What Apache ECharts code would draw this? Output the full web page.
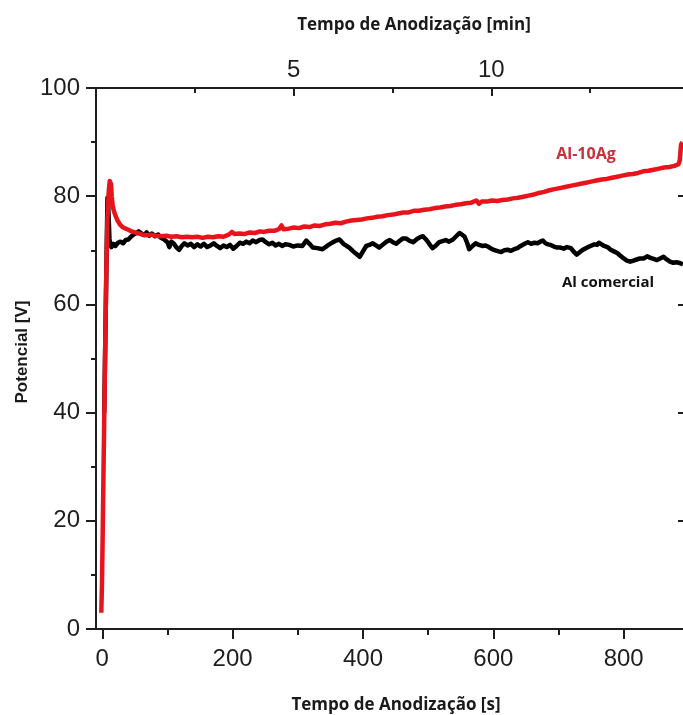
<!DOCTYPE html>
<html><head><meta charset="utf-8">
<script src="https://cdn.jsdelivr.net/npm/echarts@6/dist/echarts.min.js"></script>
<style>html,body{margin:0;padding:0;background:#fff}#c{width:683px;height:715px}</style>
</head><body><div id="c"></div>
<script>
// ---- data ----
const comercialTime = [3,4,5.5,7,8,9,10,11,12,14,17,20,24,28,32,36,40,44,48,52,56,60,64,68,72,76,81,86,90,95,100,103,106,110,114,118,122,126,131,136,141,146,151,156,161,166,171,176,181,186,191,196,201,206,211,216,221,226,231,236,241,246,251,256,261,266,271,276,281,287,293,300,307,313,318,323,330,338,346,354,359,364,370,375,379,385,390,395,400,405,410,415,420,425,430,436,441,446,451,456,461,466,471,477,482,487,492,496,500,504,507,512,517,522,527,532,538,543,548,552,556,560,563,568,573,578,583,588,593,598,603,608,612,617,622,627,632,637,642,648,653,658,663,668,672,676,680,684,688,693,698,703,708,713,719,723,728,733,739,744,749,755,759,762,766,770,775,780,785,790,795,800,805,810,815,820,825,831,836,841,846,851,856,861,866,871,876,881,887,891];
const comercialVolt = [40,48,60,72,79.7,78.8,75.5,72.2,71,70.6,71.2,70.8,71.4,71.6,71.3,71.9,72,72.5,72.9,73.2,73.5,73.1,72.8,73.3,72.7,73.1,72.6,72.9,72.3,72,71.5,70.6,71.6,71.2,70.5,70.1,70.8,71.3,70.9,71.2,70.6,71.1,70.7,71.2,70.6,70.9,71.3,70.8,70.4,70.9,70.6,71,70.3,70.8,71.4,71.2,71.6,71.3,71.8,71.5,71.9,72,71.5,71.1,71.4,70.9,71.2,70.8,71.1,71,70.7,70.9,70.8,71.8,71.2,70.5,70.4,70.2,70.9,71.5,71.8,72,71.2,70.8,70.5,69.8,69.3,68.8,69.8,70.8,71,71.3,70.9,70.5,71,71.6,71.9,71.5,71.2,71.7,72.2,72.2,71.8,71.5,72,72.4,72.6,72.1,71.5,70.8,70.4,70.9,71.5,71.7,71.9,71.6,72,72.6,73.2,72.9,72.5,71.3,70.2,70.8,71.3,71,70.8,70.9,70.6,70.2,70,69.8,69.7,70,70.1,69.9,70.2,70.4,70.8,71.2,71.5,71.2,71.4,71.3,71.6,71.8,71.3,71.1,71,70.7,70.5,70.5,70.3,70.6,70.4,69.8,69.2,69.7,70.2,70.5,70.8,71.1,71,71.4,71.1,70.8,70.6,70.1,69.8,69.5,69,68.5,68.1,67.9,68.1,68.3,68.5,68.5,68.9,68.6,68.4,68.2,68.5,68.8,68.3,67.9,67.7,67.8,67.6,67.4];
const agTime = [-1.5,-0.5,0.5,2,3.5,5,6.5,8,10,11.5,12.5,13.5,14.5,16,18,20,23,27,31,36,40,45,50,56,62,68,75,82,90,98,106,114,122,130,138,146,154,162,170,178,186,194,199,203,210,218,226,234,242,248,256,264,271,275,278,286,294,302,310,318,326,334,342,350,358,366,374,382,390,398,406,414,422,430,438,446,454,462,470,478,486,494,502,510,518,526,534,542,550,558,566,574,578,582,590,598,606,614,622,630,638,646,654,662,670,678,686,694,702,710,718,726,734,742,750,758,766,774,782,790,798,806,814,822,830,838,846,854,862,870,878,884,886,888,890];
const agVolt = [3,8,16,30,43,56,68,76,81,82.8,83,82.2,80,78.2,77.2,76.5,75.6,74.8,74.3,74,73.8,73.5,73.3,73.1,72.9,72.8,72.9,72.7,72.6,72.7,72.5,72.6,72.4,72.5,72.4,72.5,72.3,72.5,72.4,72.6,72.5,72.9,73.4,73,73.1,73,73.3,73.2,73.5,73.4,73.6,73.6,73.9,74.6,73.9,74,74.2,74.1,74.4,74.3,74.6,74.5,74.8,74.9,75.1,75,75.3,75.5,75.6,75.7,75.9,76,76.2,76.3,76.5,76.6,76.8,77,77,77.3,77.3,77.5,77.6,77.8,77.9,78.1,78.2,78.4,78.5,78.7,78.8,79.2,78.6,79,79,79.2,79.1,79.3,79.4,79.6,79.7,79.9,80.1,80.3,80.6,80.8,81.1,81.3,81.5,81.7,81.9,82.1,82.3,82.5,82.7,82.9,83.1,83.2,83.4,83.6,83.8,84,84.1,84.3,84.6,84.7,84.9,85.1,85.3,85.4,85.6,85.9,86.6,89.5,90];
const secLabels = [0,200,400,600,800];
const secMinor = [100,300,500,700];
const minLabels = [5,10];
const minMinor = [2.5,7.5,12.5];
const seriesNames = ['Al comercial','Al-10Ag'];

// ---- chart ----
const pairs = (t, v) => t.map((x, i) => [x, v[i]]);
const axisCol = '#1e1e1e';
const tickFont = {fontFamily: 'Liberation Sans', fontSize: 24, color: '#1e1e1e'};
const chart = echarts.init(document.getElementById('c'), null, {renderer: 'canvas'});
const secMin = -9.6, secMax = 891, minMin = 0, minMax = 14.85;
chart.setOption({
  animation: false,
  backgroundColor: '#fff',
  grid: {left: 96, top: 88, width: 588, height: 541},
  xAxis: [
    {type: 'value', position: 'bottom', min: secMin, max: secMax,
     axisLine: {show: true, onZero: false, lineStyle: {color: axisCol, width: 2}},
     axisTick: {show: true, inside: false, length: 10, customValues: secLabels, lineStyle: {color: axisCol, width: 2}},
     axisLabel: Object.assign({customValues: secLabels, margin: 18}, tickFont),
     splitLine: {show: false}},
    {type: 'value', position: 'bottom', min: secMin, max: secMax,
     axisLine: {show: false, onZero: false},
     axisTick: {show: true, inside: false, length: 6, customValues: secMinor, lineStyle: {color: axisCol, width: 2}},
     axisLabel: {show: false}, splitLine: {show: false}},
    {type: 'value', position: 'top', min: minMin, max: minMax,
     axisLine: {show: true, onZero: false, lineStyle: {color: axisCol, width: 2}},
     axisTick: {show: true, inside: true, length: 8, customValues: minLabels, lineStyle: {color: axisCol, width: 2}},
     axisLabel: Object.assign({customValues: minLabels, margin: 6}, tickFont),
     splitLine: {show: false}},
    {type: 'value', position: 'top', min: minMin, max: minMax,
     axisLine: {show: false, onZero: false},
     axisTick: {show: true, inside: true, length: 5, customValues: minMinor, lineStyle: {color: axisCol, width: 2}},
     axisLabel: {show: false}, splitLine: {show: false}}
  ],
  yAxis: [
    {type: 'value', position: 'left', min: 0, max: 100, interval: 20,
     axisLine: {show: true, onZero: false, lineStyle: {color: axisCol, width: 2}},
     axisTick: {show: true, inside: false, length: 10, lineStyle: {color: axisCol, width: 2}},
     minorTick: {show: true, splitNumber: 2, length: 5, lineStyle: {color: axisCol, width: 2}},
     axisLabel: Object.assign({margin: 16}, tickFont),
     splitLine: {show: false}},
    {type: 'value', position: 'right', min: 0, max: 100, interval: 20,
     axisLine: {show: false, onZero: false},
     axisTick: {show: true, inside: true, length: 5, lineStyle: {color: axisCol, width: 2}},
     axisLabel: {show: false}, splitLine: {show: false}}
  ],
  series: [
    {name: seriesNames[0], type: 'line', xAxisIndex: 0, yAxisIndex: 0, data: pairs(comercialTime, comercialVolt),
     showSymbol: false, symbol: 'none', z: 2, lineStyle: {color: '#000', width: 4.5, join: 'round'}},
    {name: seriesNames[1], type: 'line', xAxisIndex: 0, yAxisIndex: 0, data: pairs(agTime, agVolt),
     showSymbol: false, symbol: 'none', z: 3, lineStyle: {color: '#e8141b', width: 4.5, join: 'round'}}
  ],
  graphic: [
    {type: 'text', style: {text: 'Tempo de Anodização [min]', x: 414, y: 25, align: 'center', verticalAlign: 'middle', fontFamily: 'Open Sans', fontWeight: 'bold', fontSize: 17, fill: '#1a1a1a'}},
    {type: 'text', style: {text: 'Tempo de Anodização [s]', x: 396, y: 705, align: 'center', verticalAlign: 'middle', fontFamily: 'Open Sans', fontWeight: 'bold', fontSize: 17, fill: '#1a1a1a'}},
    {type: 'text', x: 22, y: 352, rotation: Math.PI / 2, style: {text: 'Potencial [V]', x: 0, y: 0, align: 'center', verticalAlign: 'middle', fontFamily: 'Liberation Sans', fontWeight: 'bold', fontSize: 17, fill: '#1a1a1a'}},
    {type: 'text', style: {text: seriesNames[1], x: 586, y: 154, align: 'center', verticalAlign: 'middle', fontFamily: 'Open Sans', fontWeight: 'bold', fontSize: 16, fill: '#c8303a'}},
    {type: 'text', style: {text: seriesNames[0], x: 608, y: 283, align: 'center', verticalAlign: 'middle', fontFamily: 'Open Sans', fontWeight: 'bold', fontSize: 15, fill: '#111'}}
  ]
});
</script></body></html>
